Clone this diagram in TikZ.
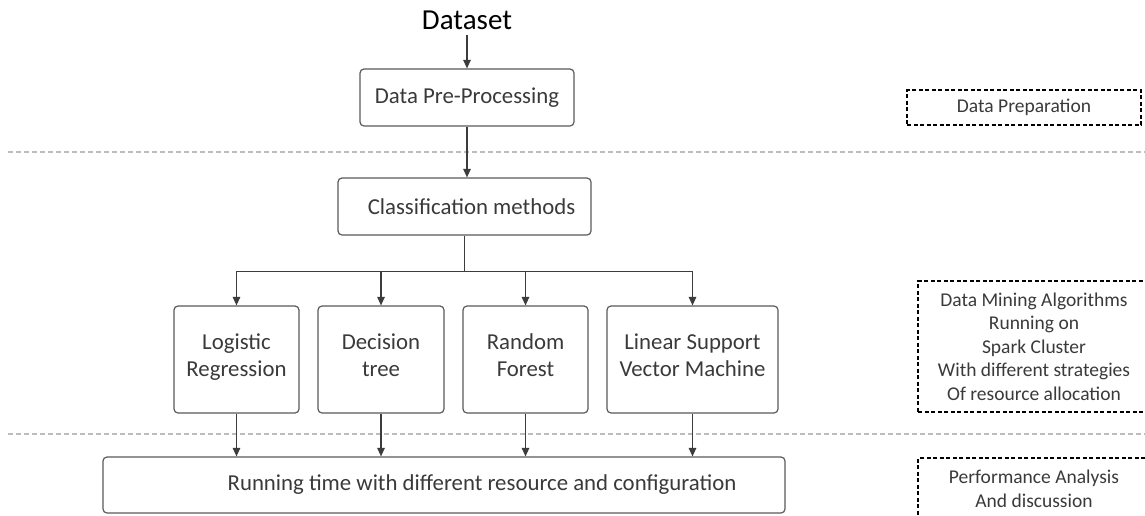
\documentclass[tikz,border=0pt]{standalone}
\usepackage{fontspec}
\setmainfont{Carlito}
\usetikzlibrary{arrows.meta}
\definecolor{boxline}{HTML}{5A5A5A}
\definecolor{txt}{HTML}{3A3A3A}
\definecolor{sepline}{HTML}{BDBDBD}
\definecolor{arrowc}{HTML}{3C3C3C}
\tikzset{
  flowbox/.style={draw=boxline, line width=1.2pt, rounded corners=4pt, align=center,
    text=txt, font=\fontsize{22.8}{27}\selectfont, inner sep=2pt},
  notebox/.style={draw=black, line width=1.1pt, dash pattern=on 4pt off 2.5pt,
    align=center, text=txt, font=\fontsize{19.5}{23.5}\selectfont, inner sep=2pt},
  arr/.style={draw=arrowc, line width=1.1pt, -{Triangle[length=8.5pt,width=7.5pt]}},
  link/.style={draw=arrowc, line width=1.1pt},
  sepline/.style={draw=sepline, line width=1.1pt, dash pattern=on 5pt off 3pt}
}
\begin{document}
\begin{tikzpicture}[x=1pt, y=-1pt]
\clip (0,0) rectangle (1145,515);
\fill[white] (0,0) rectangle (1145,515);

% stage separators
\draw[sepline] (8,152) -- (1145,152);
\draw[sepline] (8,434) -- (1145,434);

% main flow
\node[font=\fontsize{29}{33}\selectfont, text=black, inner sep=1pt] (data) at (467,20) {Dataset};
\node[flowbox, minimum width=214pt, minimum height=57pt] (pre) at (467,97.5) {Data Pre-Processing};
\node[flowbox, minimum width=253pt, minimum height=57pt] (cls) at (464.5,206.5) {\hspace*{14pt}Classification methods};

\node[flowbox, minimum width=125pt, minimum height=107pt] (lr) at (236.5,359.5) {Logistic\\Regression\\[-18pt]};
\node[flowbox, minimum width=126pt, minimum height=107pt] (dt) at (381,359.5) {Decision\\tree\\[-18pt]};
\node[flowbox, minimum width=125pt, minimum height=107pt] (rf) at (525.5,359.5) {Random\\Forest\\[-18pt]};
\node[flowbox, minimum width=171pt, minimum height=107pt] (svm) at (692.5,359.5) {Linear Support\\Vector Machine\\[-18pt]};

\node[flowbox, minimum width=682pt, minimum height=56pt] (run) at (444,485)
  {\hspace*{76pt}Running time with different resource and configuration};

% stage notes
\node[notebox, minimum width=234pt, minimum height=35pt] (prep) at (1024,107.5) {Data Preparation};
\node[notebox, minimum width=232pt, minimum height=131pt] (mine) at (1034,346.5)
  {Data Mining Algorithms\\Running on\\Spark Cluster\\With different strategies\\Of resource allocation};
\node[notebox, minimum width=232pt, minimum height=62pt] (perf) at (1034,489)
  {Performance Analysis\\And discussion};

% connectors
\draw[arr, shorten <=4pt] (data) -- (pre);
\draw[arr] (pre.south) -- (pre.south |- cls.north);
\draw[link] (cls.south) -- ++(0,36) coordinate (hub);
\foreach \m in {lr,dt,rf,svm}{
  \draw[arr] (hub) -| (\m.north);
  \draw[arr] (\m.south) -- (\m.south |- run.north);
}
\end{tikzpicture}
\end{document}
